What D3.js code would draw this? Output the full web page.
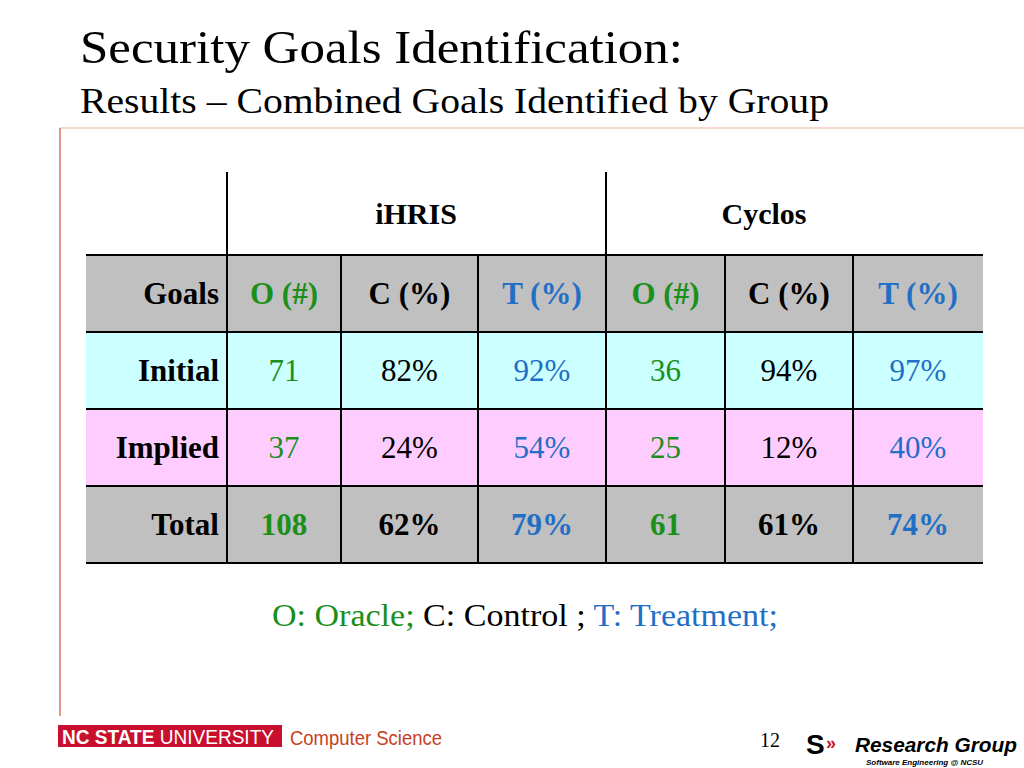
<!DOCTYPE html><html><head><meta charset="utf-8">
<script src="https://cdn.jsdelivr.net/npm/d3@7"></script>
<style>body{margin:0;background:#fff}</style></head><body>
<svg id="s" width="1024" height="768"></svg>
<script>
const groups = ["iHRIS","Cyclos"];
const columns = ["O (#)","C (%)","T (%)","O (#)","C (%)","T (%)"];
const rowLabels = ["Initial","Implied","Total"];
const initialRow = ["71","82%","92%","36","94%","97%"];
const impliedRow = ["37","24%","54%","25","12%","40%"];
const totalRow = ["108","62%","79%","61","61%","74%"];
const rows = [initialRow, impliedRow, totalRow];

const svg = d3.select("#s");
const serif = "'Liberation Serif', 'Times New Roman', serif";
const sans = "'Liberation Sans', Arial, sans-serif";
const green = "#1a8f1a", blue = "#1f6fc6";
const colColor = [green,"#000",blue,green,"#000",blue];
const rowFill = ["#c0c0c0","#ccffff","#ffccff","#c0c0c0"];
const xEdges = [86,227,341,478,606,725,853,983];
const yEdges = [255,332,409,486,563];
const groupX = [416,764];

svg.append("text").attr("x",80).attr("y",63).attr("font-family",serif).attr("font-size",46)
 .attr("textLength",603).attr("lengthAdjust","spacingAndGlyphs").text("Security Goals Identification:");
svg.append("text").attr("x",80).attr("y",113).attr("font-family",serif).attr("font-size",36)
 .attr("textLength",749).attr("lengthAdjust","spacingAndGlyphs").text("Results – Combined Goals Identified by Group");
svg.append("line").attr("x1",60).attr("x2",1024).attr("y1",128).attr("y2",128).attr("stroke","#f4c8c0").attr("stroke-width",1.5);
svg.append("line").attr("x1",60).attr("x2",60).attr("y1",128).attr("y2",716).attr("stroke","#e07060").attr("stroke-width",1.5);

svg.selectAll("rect.row").data(rowFill).join("rect")
 .attr("x",xEdges[0]).attr("width",xEdges[7]-xEdges[0])
 .attr("y",(d,i)=>yEdges[i]).attr("height",(d,i)=>yEdges[i+1]-yEdges[i]).attr("fill",d=>d);

svg.selectAll("text.g").data(groups).join("text")
 .attr("x",(d,i)=>groupX[i]).attr("y",224)
 .attr("text-anchor","middle").attr("font-family",serif).attr("font-weight","bold").attr("font-size",30).text(d=>d);
svg.selectAll("line.gv").data([227,606]).join("line")
 .attr("x1",d=>d).attr("x2",d=>d).attr("y1",172).attr("y2",255).attr("stroke","#000").attr("stroke-width",2);

svg.selectAll("line.h").data(yEdges).join("line")
 .attr("x1",xEdges[0]).attr("x2",xEdges[7]).attr("y1",d=>d).attr("y2",d=>d).attr("stroke","#000").attr("stroke-width",2);
svg.selectAll("line.v").data(xEdges.slice(1,7)).join("line")
 .attr("x1",d=>d).attr("x2",d=>d).attr("y1",255).attr("y2",563).attr("stroke","#000").attr("stroke-width",2);

const cy = i => (yEdges[i]+yEdges[i+1])/2 + 10;
svg.append("text").attr("x",219).attr("y",cy(0)).attr("text-anchor","end").attr("font-family",serif).attr("font-weight","bold").attr("font-size",31).text("Goals");
svg.selectAll("text.ch").data(columns).join("text")
 .attr("x",(d,i)=>(xEdges[i+1]+xEdges[i+2])/2).attr("y",cy(0)).attr("text-anchor","middle")
 .attr("font-family",serif).attr("font-weight","bold").attr("font-size",31).attr("fill",(d,i)=>colColor[i]).text(d=>d);
svg.selectAll("text.rl").data(rowLabels).join("text")
 .attr("x",219).attr("y",(d,i)=>cy(i+1)).attr("text-anchor","end")
 .attr("font-family",serif).attr("font-weight","bold").attr("font-size",31).text(d=>d);
rows.forEach((r,ri)=>{
 svg.selectAll("text.c"+ri).data(r).join("text")
  .attr("x",(d,i)=>(xEdges[i+1]+xEdges[i+2])/2).attr("y",cy(ri+1)).attr("text-anchor","middle")
  .attr("font-family",serif).attr("font-size",31).attr("font-weight",ri===2?"bold":"normal")
  .attr("fill",(d,i)=>colColor[i]).text(d=>d);
});

const lg = svg.append("text").attr("x",272).attr("y",626).attr("font-family",serif).attr("font-size",31)
 .attr("textLength",506).attr("lengthAdjust","spacingAndGlyphs");
lg.append("tspan").attr("fill",green).text("O: Oracle; ");
lg.append("tspan").attr("fill","#000").text("C: Control ; ");
lg.append("tspan").attr("fill",blue).text("T: Treatment;");

svg.append("rect").attr("x",58).attr("y",725).attr("width",224).attr("height",22).attr("fill","#c8102e");
const ft = svg.append("text").attr("x",62).attr("y",744).attr("font-family",sans).attr("font-size",20).attr("fill","#fff")
 .attr("textLength",212).attr("lengthAdjust","spacingAndGlyphs");
ft.append("tspan").attr("font-weight","bold").text("NC STATE ");
ft.append("tspan").text("UNIVERSITY");
svg.append("text").attr("x",290).attr("y",745).attr("font-family",sans).attr("font-size",21).attr("fill","#c8401e")
 .attr("textLength",152).attr("lengthAdjust","spacingAndGlyphs").text("Computer Science");
svg.append("text").attr("x",760).attr("y",747).attr("font-family",serif).attr("font-size",20).text("12");
svg.append("text").attr("x",806).attr("y",754).attr("font-family",sans).attr("font-weight","bold").attr("font-size",28).text("S");
svg.append("text").attr("x",826).attr("y",749).attr("font-family",sans).attr("font-weight","bold").attr("font-size",18).attr("fill","#c8102e").text("»");
svg.append("text").attr("x",855).attr("y",752).attr("font-family",sans).attr("font-weight","bold").attr("font-style","italic").attr("font-size",21)
 .attr("textLength",162).attr("lengthAdjust","spacingAndGlyphs").text("Research Group");
svg.append("text").attr("x",866).attr("y",765).attr("font-family",sans).attr("font-style","italic").attr("font-weight","bold").attr("font-size",8).text("Software Engineering @ NCSU");
</script></body></html>
